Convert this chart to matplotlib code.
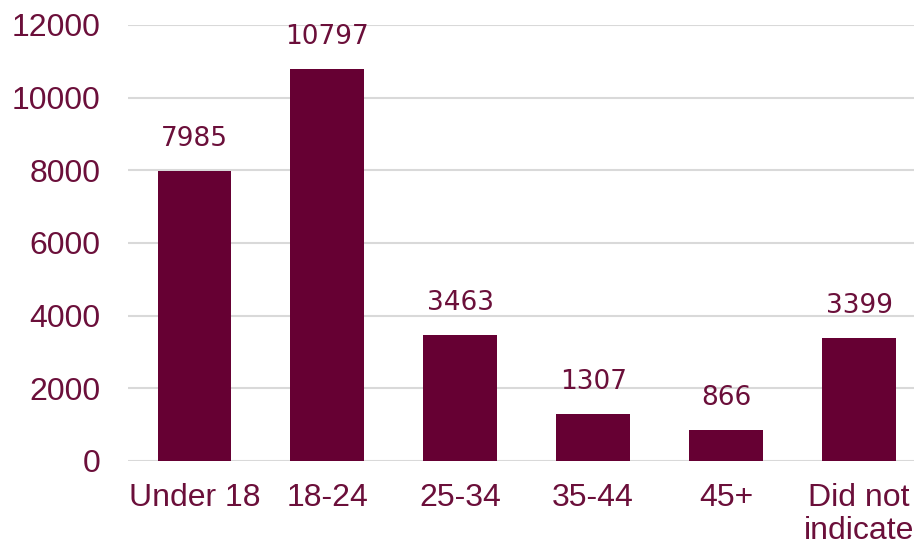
import matplotlib.pyplot as plt

# age groups and respondent counts
categories = ["Under 18", "18-24", "25-34", "35-44", "45+", "Did not\nindicate"]
counts = [7985, 10797, 3463, 1307, 866, 3399]
y_ticks = [0, 2000, 4000, 6000, 8000, 10000, 12000]

maroon = "#660033"
text_col = "#6B0F3A"

fig = plt.figure(figsize=(9.14, 5.47), dpi=100)
# axes run a little past the right edge, as in the source image
ax = fig.add_axes([128 / 914, 86 / 547, 797.5 / 914, 436 / 547])

x = list(range(len(categories)))
ax.bar(x, counts, width=0.556, color=maroon, zorder=3)

for xi, v in zip(x, counts):
    ax.text(xi, v + 520, str(v), ha="center", va="bottom",
            fontsize=19, color=text_col, family="DejaVu Sans")

ax.set_xlim(-0.5, len(categories) - 0.5)
ax.set_ylim(0, 12000)
ax.set_yticks(y_ticks)
ax.set_yticklabels([str(t) for t in y_ticks], fontsize=23,
                   color=text_col, family="Liberation Sans")
ax.set_xticks(x)
ax.set_xticklabels(categories, fontsize=23, color=text_col,
                   family="Liberation Sans", linespacing=1.1)

ax.grid(axis="y", color="#D9D9D9", linewidth=1.5, zorder=0)
for s in ax.spines.values():
    s.set_visible(False)
ax.tick_params(axis="both", length=0)
ax.tick_params(axis="y", pad=20)
ax.tick_params(axis="x", pad=16)

fig.savefig("out.png", dpi=100)
